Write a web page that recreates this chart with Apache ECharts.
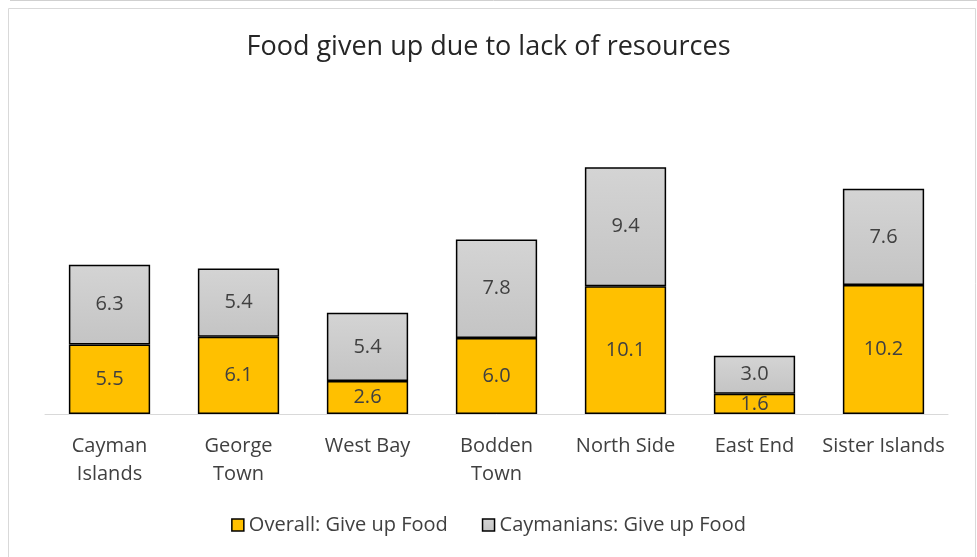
<!DOCTYPE html>
<html>
<head>
<meta charset="utf-8">
<script src="https://cdn.jsdelivr.net/npm/echarts@6/dist/echarts.min.js"></script>
<style>
  html, body { margin: 0; padding: 0; background: #fff; }
  #chart { width: 977px; height: 557px; }
</style>
</head>
<body>
<div id="chart"></div>
<script>
const categories = ['Cayman\nIslands', 'George\nTown', 'West Bay', 'Bodden\nTown', 'North Side', 'East End', 'Sister Islands']
const overall = [5.5, 6.1, 2.6, 6.0, 10.1, 1.6, 10.2]
const caymanians = [6.3, 5.4, 5.4, 7.8, 9.4, 3.0, 7.6]

const font = '"Open Sans", "Noto Sans", sans-serif'
let chart = echarts.init(document.getElementById('chart'))

chart.setOption({
  animation: false,
  textStyle: { fontFamily: font },
  title: {
    text: 'Food given up due to lack of resources',
    left: 'center',
    top: 29,
    textStyle: { fontFamily: font, fontSize: 27, fontWeight: 'normal', color: '#262626' }
  },
  legend: {
    bottom: 17,
    left: 'center',
    icon: 'rect',
    itemWidth: 12,
    itemHeight: 12,
    itemGap: 34,
    itemStyle: { borderColor: '#000', borderWidth: 1.5 },
    textStyle: { fontFamily: font, fontSize: 20, color: '#404040' },
    data: ['Overall: Give up Food', 'Caymanians: Give up Food']
  },
  graphic: [
    {
      type: 'rect',
      shape: { x: 8.5, y: 8.5, width: 967, height: 560 },
      style: { fill: 'none', stroke: '#d9d9d9', lineWidth: 1 },
      silent: true
    },
    {
      type: 'line',
      shape: { x1: 10, y1: 0.5, x2: 977, y2: 0.5 },
      style: { stroke: '#d0d0d0', lineWidth: 1 },
      silent: true
    }
  ],
  grid: { left: 45, right: 29, top: 161, bottom: 143 },
  xAxis: {
    type: 'category',
    data: categories,
    axisTick: { show: false },
    axisLine: { lineStyle: { color: '#d9d9d9', width: 1 } },
    axisLabel: { fontFamily: font, fontSize: 20, color: '#404040', lineHeight: 28, margin: 18, interval: 0 }
  },
  yAxis: {
    type: 'value',
    min: 0,
    max: 20,
    show: false,
    splitLine: { show: false }
  },
  series: [
    {
      name: 'Overall: Give up Food',
      type: 'bar',
      stack: 'total',
      barWidth: '63%',
      data: overall,
      itemStyle: { color: '#ffc000', borderColor: '#000', borderWidth: 1.5 },
      label: {
        show: true,
        position: 'inside',
        formatter: p => p.value.toFixed(1),
        fontFamily: font,
        fontSize: 20,
        color: '#404040'
      }
    },
    {
      name: 'Caymanians: Give up Food',
      type: 'bar',
      stack: 'total',
      data: caymanians,
      itemStyle: {
        color: new echarts.graphic.LinearGradient(0, 0, 0, 1, [
          { offset: 0, color: '#d4d4d4' },
          { offset: 1, color: '#c4c4c4' }
        ]),
        borderColor: '#000',
        borderWidth: 1.5
      },
      label: {
        show: true,
        position: 'inside',
        formatter: p => p.value.toFixed(1),
        fontFamily: font,
        fontSize: 20,
        color: '#404040'
      }
    }
  ]
})
</script>
</body>
</html>
